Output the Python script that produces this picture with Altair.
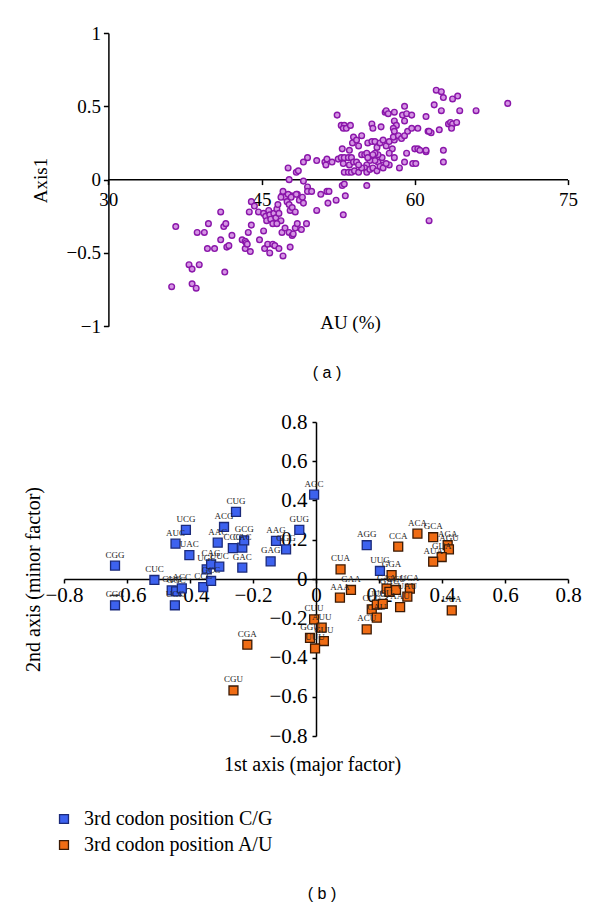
import altair as alt
import pandas as pd

# ---------------- Panel (a): AU (%) vs Axis1 ----------------
au_pct = [
    36.2, 36.6, 37.9, 38.2, 38.2, 38.6, 38.9, 38.7, 39.4, 39.8, 39.7, 40.4, 41.0, 41.0, 41.3,
    41.5, 41.4, 41.6, 41.8, 42.1, 43.1, 43.4, 43.5, 43.4, 43.9, 43.7, 44.0, 43.8, 44.0, 44.3,
    44.7, 44.8, 45.2, 45.3, 45.6, 45.8, 46.1, 46.3, 46.7, 47.1, 47.0, 47.3, 47.8, 47.7, 48.0,
    48.1, 48.3, 48.5, 48.9, 49.4, 50.4, 51.5, 52.3, 53.0, 53.2,
    45.2, 45.4, 45.5, 45.7, 45.8, 45.9, 46.1, 46.2, 46.4, 46.5, 46.6, 46.7, 46.9, 46.5, 47.0,
    47.1, 47.3, 47.5, 47.7, 47.8, 47.9, 48.0, 48.3, 48.5, 48.7, 49.0, 49.1, 49.1, 49.5, 49.5,
    49.9, 50.8, 51.4, 51.6,
    52.9, 53.1, 55.3, 47.6, 47.9, 48.4, 46.9, 43.6, 61.4,
    47.6, 47.7, 48.4, 48.6, 49.1, 49.5, 50.4, 51.2, 51.3, 51.4, 51.9, 52.4, 52.5, 52.8, 53.1,
    53.0, 53.3, 53.7, 54.0, 53.9, 54.3, 54.5, 54.8, 52.9, 53.6, 52.8, 53.1, 53.5, 53.8, 53.0,
    53.1, 53.5, 53.8, 54.1, 54.5, 53.6, 54.0, 54.3, 54.8, 55.1, 55.3, 55.4, 55.8, 56.1, 56.3,
    56.6, 56.9, 57.2, 57.5, 57.8, 58.0, 55.8, 55.9, 56.7, 57.1, 57.2, 57.4, 58.0, 59.0, 58.8,
    59.2, 59.7, 59.0, 58.0, 58.2, 57.9, 58.0, 57.9, 58.4, 58.7, 59.0, 59.3, 59.7, 60.3, 61.1,
    61.3, 60.0, 60.3, 61.1, 59.2, 58.0, 59.0, 59.8, 60.1, 58.5, 57.5, 56.9, 56.4, 56.1, 55.6,
    55.3, 55.1, 54.8, 54.5, 55.3, 55.6, 55.9, 56.3, 56.6, 56.9, 57.2, 57.5, 56.8, 56.4, 56.1,
    55.9, 55.4,
    62.1, 62.6, 62.8, 63.7, 64.2, 61.9, 62.6, 64.4, 66.0, 69.1, 63.3, 63.5, 63.7, 64.1, 63.6,
    62.4, 61.6, 61.4, 62.8, 62.8, 61.1, 60.5,
]
axis1 = [
    -0.73, -0.32, -0.58, -0.61, -0.71, -0.74, -0.58, -0.36, -0.36, -0.30, -0.47, -0.47, -0.22, -0.41, -0.32,
    -0.30, -0.63, -0.46, -0.45, -0.38, -0.41, -0.42, -0.43, -0.47, -0.49, -0.36, -0.31, -0.22, -0.15, -0.18,
    -0.22, -0.41, -0.35, -0.47, -0.44, -0.50, -0.44, -0.45, -0.47, -0.52, -0.36, -0.33, -0.46, -0.36, -0.38,
    -0.37, -0.33, -0.30, -0.34, -0.30, -0.21, -0.16, -0.14, -0.24, -0.11,
    -0.23, -0.25, -0.28, -0.21, -0.24, -0.27, -0.30, -0.23, -0.26, -0.20, -0.17, -0.23, -0.28, -0.30, -0.11,
    -0.08, -0.12, -0.15, -0.17, -0.21, -0.11, -0.19, -0.22, -0.10, -0.14, -0.12, -0.16, -0.01, -0.05, -0.08,
    -0.08, -0.10, -0.08, -0.08,
    -0.04, -0.03, -0.04, -0.10, -0.12, -0.10, -0.12, -0.44, -0.28,
    0.08, 0.00, 0.05, 0.06, 0.12, 0.15, 0.13, 0.12, 0.10, 0.14, 0.12, 0.44, 0.14, 0.37, 0.37,
    0.35, 0.35, 0.37, 0.29, 0.25, 0.27, 0.23, 0.30, 0.21, 0.20, 0.15, 0.15, 0.15, 0.15, 0.11,
    0.05, 0.05, 0.05, 0.06, 0.05, 0.10, 0.12, 0.12, 0.17, 0.17, 0.18, 0.25, 0.26, 0.26, 0.22,
    0.25, 0.27, 0.23, 0.26, 0.21, 0.27, 0.38, 0.35, 0.36, 0.46, 0.47, 0.45, 0.46, 0.50, 0.44,
    0.45, 0.44, 0.40, 0.40, 0.37, 0.35, 0.33, 0.29, 0.30, 0.28, 0.30, 0.33, 0.35, 0.35, 0.43,
    0.33, 0.21, 0.21, 0.19, 0.18, 0.15, 0.12, 0.11, 0.11, 0.08, 0.10, 0.10, 0.12, 0.13, 0.13,
    0.10, 0.08, 0.08, 0.10, 0.05, 0.07, 0.08, 0.06, 0.09, 0.08, 0.11, 0.18, 0.15, 0.17, 0.18,
    0.17, 0.15,
    0.61, 0.60, 0.56, 0.55, 0.57, 0.51, 0.47, 0.47, 0.47, 0.52, 0.38, 0.39, 0.38, 0.39, 0.35,
    0.34, 0.32, 0.33, 0.20, 0.12, 0.20, 0.20,
]

# ---------------- Panel (b): codon correspondence analysis ----------------
cg_codons = ["CGG", "CGC", "CUC", "GUC", "GGC", "ACC", "UCC", "AUC", "UCG", "UAC",
             "CCC", "UGC", "GCC", "CAG", "UUC", "AAC", "ACG", "CUG", "CCG", "CAC",
             "GCG", "GAC", "GAG", "AAG", "GGG", "GUG", "AGC", "AGG", "UUG"]
cg_axis1 = [-0.638, -0.638, -0.513, -0.458, -0.444, -0.426, -0.448, -0.446, -0.413, -0.402,
            -0.358, -0.347, -0.333, -0.333, -0.307, -0.312, -0.292, -0.254, -0.264, -0.234,
            -0.228, -0.234, -0.144, -0.127, -0.095, -0.053, -0.006, 0.161, 0.203]
cg_axis2 = [0.068, -0.134, -0.005, -0.058, -0.063, -0.048, -0.134, 0.180, 0.250, 0.122,
            -0.041, 0.049, -0.010, 0.075, 0.063, 0.185, 0.265, 0.342, 0.157, 0.160,
            0.197, 0.058, 0.090, 0.194, 0.151, 0.250, 0.430, 0.172, 0.041]

au_codons = ["CCA", "ACA", "GCA", "AGA", "AGU", "GUA", "AUA", "CUA", "GGA", "GAA",
             "AAA", "UCA", "UAU", "CAA", "GAU", "GCU", "AAU", "UUA", "CCU", "UCU",
             "UGU", "CAU", "ACU", "CUU", "AUU", "GGU", "GUU", "UUU", "CGA", "CGU"]
au_axis1 = [0.261, 0.322, 0.372, 0.418, 0.422, 0.399, 0.372, 0.078, 0.240, 0.111,
            0.076, 0.298, 0.290, 0.224, 0.233, 0.254, 0.267, 0.431, 0.177, 0.193,
            0.212, 0.193, 0.161, -0.006, 0.018, -0.019, 0.025, -0.003, -0.218, -0.262]
au_axis2 = [0.165, 0.231, 0.213, 0.172, 0.151, 0.112, 0.088, 0.049, 0.020, -0.056,
            -0.095, -0.049, -0.090, -0.049, -0.065, -0.056, -0.143, -0.160, -0.155, -0.130,
            -0.127, -0.197, -0.257, -0.206, -0.248, -0.300, -0.316, -0.354, -0.335, -0.568]

group_names = ["3rd codon position C/G", "3rd codon position A/U"]
ticks_a_x = [30, 45, 60, 75]
ticks_a_y = [-1, -0.5, 0, 0.5, 1]
ticks_b = [-0.8, -0.6, -0.4, -0.2, 0, 0.2, 0.4, 0.6, 0.8]

SERIF = "Liberation Serif"
SANS = "Liberation Sans"

# ---------- build panel (a) ----------
df_a = pd.DataFrame({"AU": au_pct, "Axis1": axis1})

x_a = alt.X("AU:Q", scale=alt.Scale(domain=[25.66, 75], nice=False, zero=False),
            axis=alt.Axis(values=ticks_a_x, offset=-146.7, domain=False, grid=False,
                          tickSize=5, tickColor="black", tickWidth=1.5,
                          labelFont=SERIF, labelFontSize=19, labelColor="black",
                          labelPadding=6, labelFlush=False, labelOverlap=False,
                          title="AU (%)", titleFont=SERIF, titleFontSize=19,
                          titleFontWeight="normal", titleColor="black",
                          titleX=286, titleY=143, titleAlign="center", titleBaseline="middle"))
y_a = alt.Y("Axis1:Q", scale=alt.Scale(domain=[-1, 1], nice=False, zero=False),
            axis=alt.Axis(values=ticks_a_y, format="~g", offset=-44.4,
                          domainColor="black", domainWidth=1.5, grid=False,
                          tickSize=5, tickColor="black", tickWidth=1.5,
                          labelFont=SERIF, labelFontSize=19, labelColor="black",
                          labelPadding=3, labelFlush=False, labelOverlap=False,
                          title="Axis1", titleFont=SERIF, titleFontSize=19,
                          titleFontWeight="normal", titleColor="black",
                          titleX=-68, titleY=147, titleAngle=270,
                          titleAlign="center", titleBaseline="middle"))

rule_a = alt.Chart(pd.DataFrame({"AU": [30], "AU_end": [75], "Axis1": [0]})).mark_rule(
    color="black", strokeWidth=1.5).encode(x=x_a, x2="AU_end:Q", y=y_a)

pts_a = alt.Chart(df_a).mark_circle(size=32, fill="#d493e3", stroke="#8a16aa",
                                    strokeWidth=1.4, opacity=1).encode(x=x_a, y=y_a)

lab_a = alt.Chart(pd.DataFrame({"t": ["( a )"]})).mark_text(
    font=SANS, fontSize=16, align="center", baseline="middle", color="black").encode(
    text="t:N", x=alt.value(263), y=alt.value(340))

panel_a = alt.layer(rule_a, pts_a, lab_a).properties(width=504, height=293.3)

# ---------- build panel (b) ----------
df_b = pd.concat([
    pd.DataFrame({"ax1": cg_axis1, "ax2": cg_axis2, "codon": cg_codons, "group": group_names[0]}),
    pd.DataFrame({"ax1": au_axis1, "ax2": au_axis2, "codon": au_codons, "group": group_names[1]}),
], ignore_index=True)

x_b = alt.X("ax1:Q", scale=alt.Scale(domain=[-0.8, 0.8], nice=False, zero=False),
            axis=alt.Axis(values=ticks_b, format="~g", offset=-157,
                          domainColor="black", domainWidth=1.5, grid=False,
                          tickSize=4, tickColor="black", tickWidth=1.5,
                          labelFont=SERIF, labelFontSize=21, labelColor="black",
                          labelPadding=1, labelFlush=False, labelOverlap=False,
                          title="1st axis (major factor)", titleFont=SERIF, titleFontSize=20,
                          titleFontWeight="normal", titleColor="black",
                          titleX=248, titleY=185, titleAlign="center", titleBaseline="middle"))
y_b = alt.Y("ax2:Q", scale=alt.Scale(domain=[-0.8, 0.8], nice=False, zero=False),
            axis=alt.Axis(values=ticks_b, format="~g", offset=-252,
                          domainColor="black", domainWidth=1.5, grid=False,
                          tickSize=4, tickColor="black", tickWidth=1.5,
                          labelFont=SERIF, labelFontSize=21, labelColor="black",
                          labelPadding=5, labelFlush=False, labelOverlap=False,
                          title="2nd axis (minor factor)", titleFont=SERIF, titleFontSize=20,
                          titleFontWeight="normal", titleColor="black",
                          titleX=-283, titleY=157, titleAngle=270,
                          titleAlign="center", titleBaseline="middle"))

sq_b = alt.Chart(df_b).mark_square(size=80, strokeWidth=1.3, opacity=1).encode(
    x=x_b, y=y_b,
    fill=alt.Fill("group:N", scale=alt.Scale(domain=group_names, range=["#3d62ef", "#f06c14"]),
                  legend=alt.Legend(title=None, orient="none", legendX=-10, legendY=776,
                                    labelFont=SERIF, labelFontSize=20, labelColor="black",
                                    labelLimit=0,
                                    symbolType="square", symbolSize=80, symbolStrokeColor="#222222",
                                    symbolStrokeWidth=1.3, symbolOpacity=1, rowPadding=6,
                                    labelOffset=10)),
    stroke=alt.Stroke("group:N", scale=alt.Scale(domain=group_names, range=["#1b2a7a", "#3a1a05"]),
                      legend=None),
)

txt_b = alt.Chart(df_b).mark_text(font=SERIF, fontSize=9, dy=-11, color="#222222").encode(
    x=x_b, y=y_b, text="codon:N")

lab_b = alt.Chart(pd.DataFrame({"t": ["( b )"]})).mark_text(
    font=SANS, fontSize=16, align="center", baseline="middle", color="black").encode(
    text="t:N", x=alt.value(258), y=alt.value(472))

panel_b = alt.layer(sq_b, txt_b, lab_b).properties(width=504, height=314)

chart = alt.vconcat(panel_a, panel_b, spacing=95, bounds="flush").properties(
    padding={"left": 15, "top": 16, "right": 5, "bottom": 5}
).configure(font=SERIF, background="white").configure_view(stroke=None)

chart.save("out.html", embed_options={"renderer": "svg", "actions": False})
